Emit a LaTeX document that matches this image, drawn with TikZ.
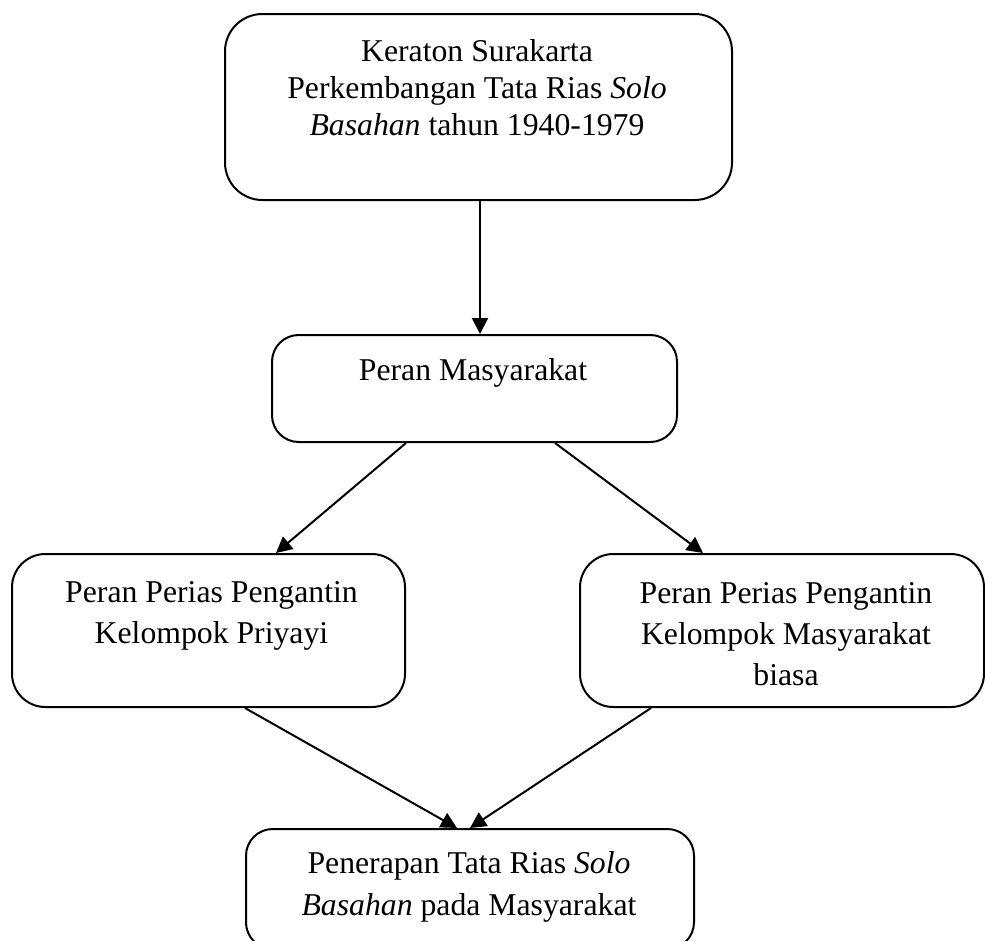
\documentclass[tikz,border=0pt]{standalone}
\usepackage{fontspec}
\setmainfont{Liberation Serif}
\usetikzlibrary{arrows.meta}
\begin{document}
\begin{tikzpicture}[x=0.75pt,y=-0.75pt,
  box/.style={draw=black,line width=1.5pt,rounded corners=#1,inner sep=0pt,anchor=north west},
  box/.default=22,
  txt/.style={anchor=base,align=center,inner sep=0pt,font=\fontsize{23.8pt}{#1}\selectfont},
  txt/.default=30.75pt,
  arr/.style={line width=1.5pt,-{Triangle[length=12pt,width=12pt]}}]
\clip (0,0) rectangle (985,940);
\useasboundingbox (0,0) rectangle (985,940);
% boxes
\node[box=28,minimum width=507*0.75pt,minimum height=186*0.75pt] (b1) at (224,13) {};
\node[box=20,minimum width=405*0.75pt,minimum height=107*0.75pt] (b2) at (271,334) {};
\node[box=25,minimum width=393*0.75pt,minimum height=153*0.75pt] (b3) at (11,553) {};
\node[box=25,minimum width=404*0.75pt,minimum height=153*0.75pt] (b4) at (579,553) {};
\node[box=20,minimum width=448*0.75pt,minimum height=120*0.75pt] (b5) at (245,828) {};
% texts (anchor base = baseline of last line)
\node[txt=27.4pt] (t1) at (477,135) {Keraton Surakarta\\Perkembangan Tata Rias \textit{Solo}\\\textit{Basahan} tahun 1940-1979};
\node[txt] (t2) at (473,380) {Peran Masyarakat};
\node[txt] (t3) at (211.5,643) {Peran Perias Pengantin\\Kelompok Priyayi};
\node[txt] (t4) at (786,685) {Peran Perias Pengantin\\Kelompok Masyarakat\\biasa};
\node[txt=31.5pt] (t5) at (469,915) {Penerapan Tata Rias \textit{Solo}\\\textit{Basahan} pada Masyarakat};
% connector x positions
\coordinate (xa) at (480,0);
\coordinate (xb) at (406,0);
\coordinate (xc) at (276,0);
\coordinate (xd) at (555,0);
\coordinate (xe) at (703,0);
\coordinate (xf) at (245,0);
\coordinate (xg) at (457,0);
\coordinate (xh) at (651,0);
\coordinate (xi) at (470,0);
% connectors
\draw[arr] (b1.south -| xa) -- (b2.north -| xa);
\draw[arr] (b2.south -| xb) -- (b3.north -| xc);
\draw[arr] (b2.south -| xd) -- (b4.north -| xe);
\draw[arr] (b3.south -| xf) -- (b5.north -| xg);
\draw[arr] (b4.south -| xh) -- (b5.north -| xi);
\end{tikzpicture}
\end{document}
